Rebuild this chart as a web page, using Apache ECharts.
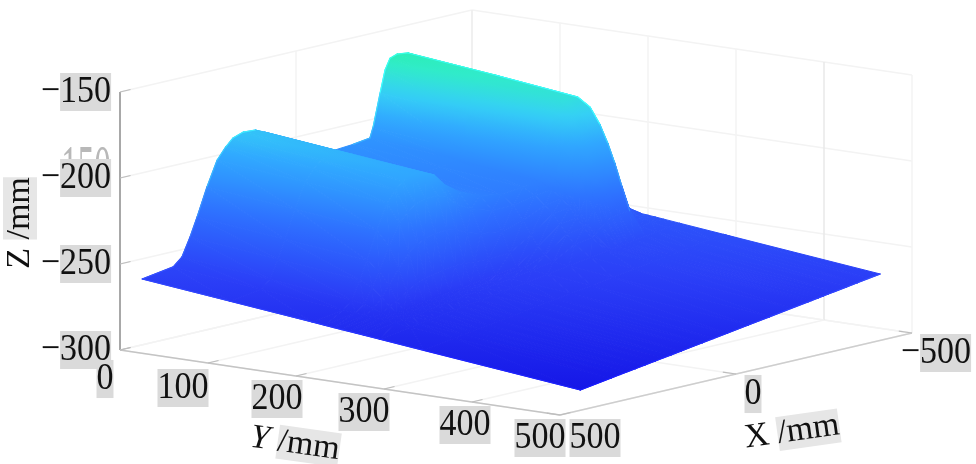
<!DOCTYPE html>
<html>
<head>
<meta charset="utf-8">
<style>html,body{margin:0;padding:0;background:#fff}#main{width:976px;height:464px}</style>
<script src="https://cdn.jsdelivr.net/npm/echarts@6/dist/echarts.min.js"></script>
</head>
<body>
<div id="main"></div>
<script>
// surface, rows go back to front so they paint in order
var xStations=[-415,-380,-350,-318,-287,-267,-253,-239,-219,-210,-162,-100,-40,20,60,90,116,150,179,200,224,253,281,301,324,349,437];
var yStations=[0,100,193,207,218,227,235,243,252,270,320,498];
var zRows=[
[-234.9,-240.3,-245.3,-246.1,-246.7,-247.2,-247.6,-248.0,-248.5,-249.5,-252.2,-261.8],
[-221.9,-227.3,-232.3,-236.0,-239.5,-242.5,-245.5,-247.0,-248.5,-250.5,-253.2,-262.8],
[-200.0,-205.4,-210.4,-217.0,-226.0,-234.0,-241.0,-246.5,-249.5,-251.5,-254.2,-263.8],
[-166.3,-171.7,-177.3,-182.1,-191.2,-201.5,-212.5,-225.3,-239.0,-252.5,-255.2,-264.8],
[-165.5,-170.9,-175.9,-184.0,-194.2,-204.2,-216.7,-227.8,-239.7,-253.5,-256.2,-265.8],
[-167.0,-172.4,-177.4,-185.4,-195.5,-205.4,-217.8,-228.7,-240.4,-254.1,-256.8,-266.4],
[-173.1,-178.5,-183.5,-191.0,-200.3,-209.5,-220.9,-231.0,-241.9,-254.6,-257.3,-266.9],
[-185.8,-191.2,-196.2,-202.5,-210.2,-217.8,-227.2,-235.5,-244.4,-255.0,-257.7,-267.3],
[-204.7,-210.1,-215.1,-219.5,-224.8,-230.1,-236.5,-242.1,-248.2,-255.6,-258.3,-267.9],
[-210.6,-216.0,-221.0,-224.9,-229.5,-234.0,-239.4,-244.3,-249.5,-255.9,-258.6,-268.2],
[-212.0,-217.4,-222.4,-226.3,-230.9,-235.4,-240.9,-245.7,-251.0,-257.4,-260.1,-269.7],
[-213.0,-218.4,-223.4,-229.0,-236.9,-244.4,-250.5,-254.7,-258.4,-259.4,-262.1,-271.7],
[-211.0,-216.4,-221.4,-229.0,-240.3,-252.2,-259.4,-259.8,-260.3,-261.3,-264.0,-273.6],
[-206.0,-211.4,-216.4,-225.3,-238.7,-252.8,-261.3,-261.7,-262.2,-263.2,-265.9,-275.5],
[-200.0,-205.4,-210.4,-220.7,-236.2,-252.6,-262.5,-262.9,-263.4,-264.4,-267.1,-276.7],
[-192.8,-198.2,-203.2,-215.0,-233.0,-252.1,-263.5,-263.9,-264.4,-265.4,-268.1,-277.7],
[-190.4,-195.8,-200.8,-213.0,-232.0,-252.0,-264.3,-264.7,-265.2,-266.2,-268.9,-278.5],
[-190.0,-195.4,-200.4,-213.1,-232.5,-253.1,-265.4,-265.8,-266.3,-267.3,-270.0,-279.6],
[-192.0,-197.4,-202.4,-214.9,-234.0,-254.2,-266.3,-266.7,-267.2,-268.2,-270.9,-280.5],
[-196.3,-201.7,-206.7,-218.5,-236.5,-255.5,-266.9,-267.3,-267.8,-268.8,-271.5,-281.1],
[-202.7,-208.1,-213.1,-223.8,-240.1,-257.4,-267.7,-268.1,-268.6,-269.6,-272.3,-281.9],
[-217.0,-222.4,-227.4,-235.6,-247.9,-260.8,-268.6,-269.0,-269.5,-270.5,-273.2,-282.8],
[-233.1,-238.5,-243.5,-248.8,-256.5,-264.6,-269.5,-269.9,-270.4,-271.4,-274.1,-283.7],
[-243.8,-249.2,-254.2,-257.6,-262.3,-267.1,-270.1,-270.5,-271.0,-272.0,-274.7,-284.3],
[-254.3,-259.7,-264.7,-266.2,-268.0,-269.7,-270.8,-271.2,-271.7,-272.7,-275.4,-285.0],
[-258.9,-264.3,-269.3,-270.1,-270.7,-271.2,-271.6,-272.0,-272.5,-273.5,-276.2,-285.8],
[-261.7,-267.1,-272.1,-272.9,-273.5,-274.0,-274.4,-274.8,-275.3,-276.3,-279.0,-288.6]
];
var xTicks=[500,0,-500];
var yTicks=[0,100,200,300,400,500];
var zTicks=[-150,-200,-250,-300];
var colorZ=[-290,-262,-230,-200,-185,-170,-160];
var colorHex=['#1414e6','#2b3ff7','#2e70ff','#30a8ff','#35d0f5','#30ecc8','#28f0a8'];

// box corners on screen: X=500,Y=0,Z=-300 is the origin of the view
function project(x,y,z){
    var u=500-x;
    return [120+0.88*y+0.352*u, 350+0.13*y-0.082*u-1.72*(z+300)];
}
function zColor(z){
    var n=colorZ.length;
    if(z<=colorZ[0]) return colorHex[0];
    for(var i=1;i<n;i++){
        if(z<=colorZ[i]){
            var f=(z-colorZ[i-1])/(colorZ[i]-colorZ[i-1]);
            return echarts.color.lerp(f,[colorHex[i-1],colorHex[i]]);
        }
    }
    return colorHex[n-1];
}
// one triangle, the gradient runs along the slope of z on screen
function triangle(p,z){
    var d1x=p[1][0]-p[0][0],d1y=p[1][1]-p[0][1],d2x=p[2][0]-p[0][0],d2y=p[2][1]-p[0][1];
    var det=d1x*d2y-d2x*d1y;
    if(Math.abs(det)<0.01) return null;
    var a=((z[1]-z[0])*d2y-(z[2]-z[0])*d1y)/det;
    var b=((z[2]-z[0])*d1x-(z[1]-z[0])*d2x)/det;
    var g=a*a+b*b;
    var zmin=Math.min(z[0],z[1],z[2]),zmax=Math.max(z[0],z[1],z[2]);
    var fill;
    if(g<1e-6||zmax-zmin<0.01){
        fill=zColor(z[0]);
    }
    else {
        var stops=[];
        for(var k=0;k<=4;k++){
            stops.push({offset:k/4,color:zColor(zmin+(zmax-zmin)*k/4)});
        }
        fill=new echarts.graphic.LinearGradient(
            p[0][0]+(zmin-z[0])*a/g,p[0][1]+(zmin-z[0])*b/g,
            p[0][0]+(zmax-z[0])*a/g,p[0][1]+(zmax-z[0])*b/g,
            stops,true);
    }
    return {type:'polygon',shape:{points:p},style:{fill:fill,stroke:fill,lineWidth:1}};
}

var cells=[];
for(var i=0;i<xStations.length-1;i++){
    for(var j=0;j<yStations.length-1;j++){
        cells.push([i,j]);
    }
}
function renderCell(params,api){
    var c=cells[params.dataIndex],i=c[0],j=c[1];
    function pt(r,s){ return api.coord(project(xStations[r],yStations[s],zRows[r][s])); }
    var p00=pt(i,j),p01=pt(i,j+1),p10=pt(i+1,j),p11=pt(i+1,j+1);
    var kids=[];
    var t1=triangle([p00,p01,p11],[zRows[i][j],zRows[i][j+1],zRows[i+1][j+1]]);
    var t2=triangle([p00,p11,p10],[zRows[i][j],zRows[i+1][j+1],zRows[i+1][j]]);
    if(t1) kids.push(t1);
    if(t2) kids.push(t2);
    return {type:'group',children:kids};
}

// thin darker rim on the visible edges of the surface
var rims=[];
function rimStep(r0,s0,r1,s1){ rims.push([r0,s0,r1,s1]); }
var lastRow=xStations.length-1,lastCol=yStations.length-1;
for(var s=0;s<lastCol;s++) rimStep(lastRow,s,lastRow,s+1);
for(var r=0;r<lastRow;r++) rimStep(r,lastCol,r+1,lastCol);
for(var r=16;r<lastRow;r++) rimStep(r,0,r+1,0);
for(var r=3;r<10;r++) rimStep(r,0,r+1,0);
for(var s=0;s<8;s++) rimStep(3,s,3,s+1);
function renderRim(params,api){
    var m=rims[params.dataIndex];
    var z0=zRows[m[0]][m[1]],z1=zRows[m[2]][m[3]];
    var a=api.coord(project(xStations[m[0]],yStations[m[1]],z0)),b=api.coord(project(xStations[m[2]],yStations[m[3]],z1));
    return {type:'line',shape:{x1:a[0],y1:a[1],x2:b[0],y2:b[1]},
        style:{stroke:echarts.color.lift(zColor((z0+z1)/2),-0.22),lineWidth:1.2,lineCap:'round'}};
}

// box, grid and ticks
var segs=[];
function seg(a,b,color,w){ segs.push({a:a,b:b,color:color,w:w}); }
var gridColor='#f3f3f3';
zTicks.forEach(function(z){
    seg([500,0,z],[-500,0,z],gridColor,1.5);
    seg([-500,0,z],[-500,500,z],gridColor,1.5);
});
xTicks.forEach(function(x){
    seg([x,0,-300],[x,0,-150],x===-500?'#dedede':gridColor,1.5);
    seg([x,0,-300],[x,500,-300],gridColor,1.5);
});
yTicks.forEach(function(y){
    seg([-500,y,-300],[-500,y,-150],y===400?'#e8e8e8':gridColor,1.5);
    seg([500,y,-300],[-500,y,-300],gridColor,1.5);
});
seg([500,0,-300],[500,0,-150],'#a8a8a8',2);
seg([500,0,-300],[500,500,-300],'#c4c4c4',1.5);
seg([500,500,-300],[-500,500,-300],'#cecece',1.5);
zTicks.forEach(function(z){ seg([500,0,z],[470,0,z],'#bdbdbd',1.2); });
yTicks.forEach(function(y){ seg([500,y,-300],[470,y,-300],'#bdbdbd',1.2); });
xTicks.forEach(function(x){ seg([x,500,-300],[x,485,-300],'#bdbdbd',1.2); });
function renderSeg(params,api){
    var s=segs[params.dataIndex];
    var a=api.coord(project(s.a[0],s.a[1],s.a[2])),b=api.coord(project(s.b[0],s.b[1],s.b[2]));
    return {type:'line',shape:{x1:a[0],y1:a[1],x2:b[0],y2:b[1]},style:{stroke:s.color,lineWidth:s.w}};
}

// labels hang off the tick they belong to
var labels=[];
var serif='"Liberation Serif","DejaVu Serif",serif';
var shade='#dadada';
var textRich={
    s:{font:'34px '+serif,fill:'#111',backgroundColor:shade,lineHeight:27},
    n:{font:'34px '+serif,fill:'#111',lineHeight:27},
    i:{font:'italic 34px '+serif,fill:'#111',lineHeight:27},
    m:{font:'34px '+serif,fill:'#111',backgroundColor:'#e6e6e6',lineHeight:24}
};
function tickText(v){
    return v<0?'{n|\u2212}{s|'+Math.abs(v)+'}':'{s|'+v+'}';
}
var zOff=[-44,-44,-44,-44],yOff=[[-15,29],[-25,25],[-19,23],[-20,23],[-7,23],[-20,23]],xOff=[[35,23],[17,20],[24,20]];
zTicks.forEach(function(z,k){ labels.push({at:[500,0,z],off:[zOff[k],0],text:tickText(z)}); });
yTicks.forEach(function(y,k){ labels.push({at:[500,y,-300],off:yOff[k],text:tickText(y)}); });
xTicks.forEach(function(x,k){ labels.push({at:[x,500,-300],off:xOff[k],text:tickText(x)}); });
function renderLabel(params,api){
    var l=labels[params.dataIndex];
    var p=api.coord(project(l.at[0],l.at[1],l.at[2]));
    return {type:'text',x:p[0]+l.off[0],y:p[1]+l.off[1],scaleY:1.12,
        style:{text:l.text,rich:textRich,align:'center',verticalAlign:'middle'}};
}
var titles=[
    {pos:[20,223],rot:Math.PI/2,text:'{n|Z }{m|/mm}'},
    {pos:[295,444],rot:-0.14,text:'{i|Y }{m|/mm}'},
    {pos:[792,432],rot:0.14,text:'{n|X }{m|/mm}'}
];
function renderTitle(params,api){
    var t=titles[params.dataIndex];
    var p=api.coord(t.pos);
    return {type:'text',x:p[0],y:p[1],rotation:t.rot,
        style:{text:t.text,rich:textRich,align:'center',verticalAlign:'middle'}};
}
function renderGhost(params,api){
    var p=api.coord([86,173]);
    return {type:'text',x:p[0],y:p[1],scaleY:2,
        style:{text:'150',font:'33px '+serif,fill:'#b8b8b8',align:'center',verticalAlign:'middle'}};
}

var chart=echarts.init(document.getElementById('main'),null,{renderer:'canvas'});
function customSeries(data,fn,z){
    return {type:'custom',coordinateSystem:'cartesian2d',data:data,renderItem:fn,clip:false,silent:true,progressive:0,animation:false,z:z};
}
function idx(list){ return list.map(function(_,k){ return [k,0]; }); }
chart.setOption({
    backgroundColor:'#fff',
    animation:false,
    grid:{left:0,right:0,top:0,bottom:0},
    xAxis:{type:'value',min:0,max:976,show:false},
    yAxis:{type:'value',min:0,max:464,inverse:true,show:false},
    series:[
        customSeries(idx(segs),renderSeg,1),
        customSeries(idx(cells),renderCell,2),
        customSeries(idx(rims),renderRim,3),
        customSeries([[0,0]],renderGhost,3),
        customSeries(idx(labels),renderLabel,4),
        customSeries(idx(titles),renderTitle,4)
    ]
});
</script>
</body>
</html>
